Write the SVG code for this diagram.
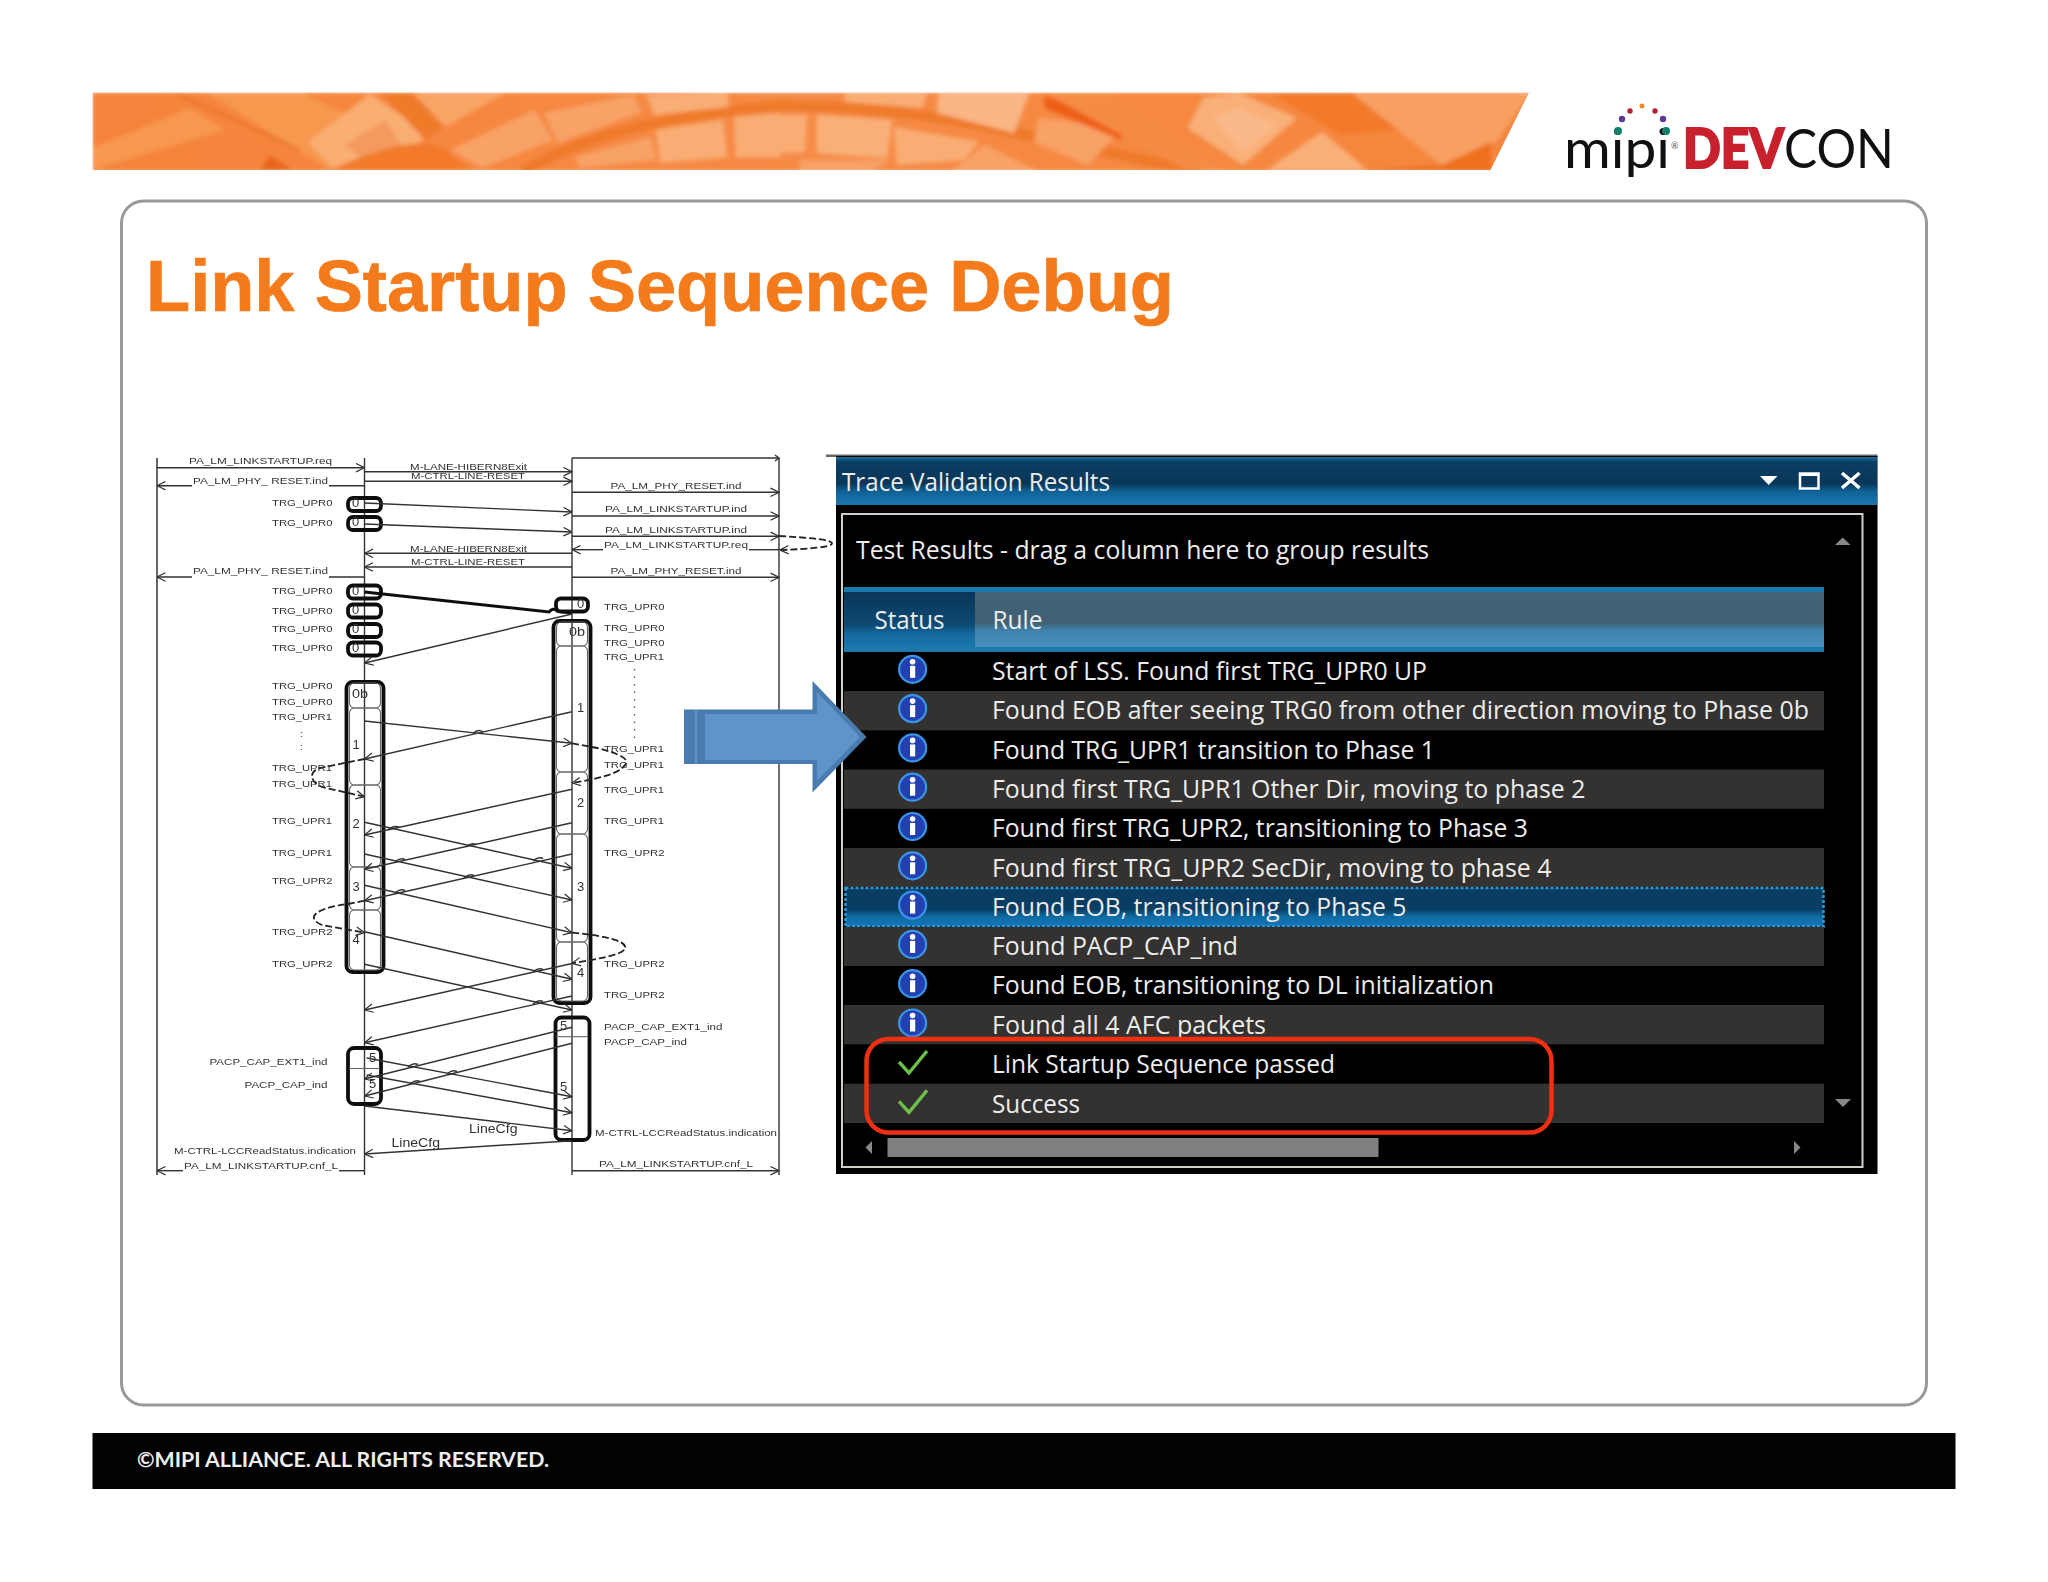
<svg xmlns="http://www.w3.org/2000/svg" width="2048" height="1582" viewBox="0 0 2048 1582">
<style>
.s{font-family:"Liberation Sans",Arial,sans-serif;font-size:9.5px;fill:#333}
.n{font-family:"Liberation Sans",Arial,sans-serif;font-size:13px;fill:#333}
.l{fill:none;stroke:#333;stroke-width:1.4}
.h{marker-end:url(#a)}
.d{fill:none;stroke:#222;stroke-width:1.8;stroke-dasharray:7 3}
.b{fill:none;stroke:#111;stroke-width:3.8}
.p{fill:none;stroke:#666;stroke-width:1.1}
.u{font-family:"Open Sans","Noto Sans",sans-serif;font-size:25px;fill:#ececec}
.g{fill:#333230}
.c{fill:none;stroke:#6cbf4b;stroke-width:3.4}
</style>
<defs>
<marker id="a" viewBox="0 0 10 10" refX="9.5" refY="5" markerWidth="10" markerHeight="10" markerUnits="userSpaceOnUse" orient="auto"><path d="M1 .8L9.5 5L1 9.2" fill="none" stroke="#333" stroke-width="1.2"/></marker>
<linearGradient id="tb" x1="0" y1="0" x2="0" y2="1"><stop offset="0" stop-color="#1a6ea5"/><stop offset=".1" stop-color="#0a3e63"/><stop offset=".55" stop-color="#0a3658"/><stop offset=".72" stop-color="#0f6297"/><stop offset="1" stop-color="#1a78ad"/></linearGradient>
<linearGradient id="hs" x1="0" y1="0" x2="0" y2="1"><stop offset="0" stop-color="#0a3658"/><stop offset=".6" stop-color="#0d4a74"/><stop offset=".75" stop-color="#14679b"/><stop offset="1" stop-color="#1a78ad"/></linearGradient>
<linearGradient id="hr" x1="0" y1="0" x2="0" y2="1"><stop offset="0" stop-color="#426476"/><stop offset=".55" stop-color="#3f6075"/><stop offset=".7" stop-color="#3f82ab"/><stop offset="1" stop-color="#478fc0"/></linearGradient>
<linearGradient id="sel" x1="0" y1="0" x2="0" y2="1"><stop offset="0" stop-color="#0a3d63"/><stop offset=".55" stop-color="#0a3d63"/><stop offset=".75" stop-color="#0f6ca5"/><stop offset="1" stop-color="#1577b5"/></linearGradient>
<linearGradient id="bn" x1="0" y1="0" x2="1" y2="0"><stop offset="0" stop-color="#f5833a"/><stop offset=".5" stop-color="#f68b46"/><stop offset="1" stop-color="#f5863c"/></linearGradient>
<clipPath id="bc"><path d="M92.500 92.500H1529L1490.500 170H92.500Z"/></clipPath>
<filter id="bl" x="-2%" y="-10%" width="104%" height="120%"><feGaussianBlur stdDeviation="2"/></filter>
<filter id="sf" x="-2%" y="-2%" width="104%" height="104%"><feGaussianBlur stdDeviation="0.35"/></filter>
<g id="i"><circle r="13.500" fill="#2340b0" stroke="#3a95e8" stroke-width="2.200"/><rect x="-2.600" y="-3.500" width="5.200" height="12" fill="#fff"/><circle cy="-7.500" r="2.800" fill="#fff"/></g>
</defs>
<rect width="2048" height="1582" fill="#fff"/>

<g id="banner" clip-path="url(#bc)">
<g filter="url(#bl)">
<rect x="92" y="92" width="1440" height="80" fill="url(#bn)"/>
<path d="M92 148L190 108L225 130L92 170Z" fill="#f8974f"/>
<path d="M205 92H300L400 140L330 170Z" fill="#f79850"/>
<path d="M175 93L300 150" stroke="#e56d1e" stroke-width="2" fill="none"/>
<path d="M260 170L270 155L292 170Z" fill="#e8651a"/>
<path d="M308 142L370 94L430 135L379 170H334Z" fill="#f9ae72"/>
<path d="M345 145L385 120L405 150L370 165Z" fill="#f49a5e"/>
<path d="M380 92H480L440 130L425 140Z" fill="#ef7a2b"/>
<path d="M413 93H505L445 127Z" fill="#f9a566"/>
<path d="M330 170Q420 130 445 150L470 170Z" fill="#f27a2c"/>
<path d="M522 172Q571 143 638 127T780 106Q880 105 979 125T1200 172" fill="none" stroke="#ef7a2b" stroke-width="11"/>
<path d="M450 150L535 110L553 140L482 168Z" fill="#f8a266"/>
<path d="M544 113L633 95L642 112L558 143Z" fill="#f8a266"/>
<path d="M647 95L727 93L729 107L654 115Z" fill="#f9ae74"/>
<path d="M656 130L723 120L727 157L660 163Z" fill="#f9ad75"/>
<path d="M734 117L780 113V157L736 157Z" fill="#f9ad75"/>
<path d="M575 157L651 137L656 160L580 168Z" fill="#f8a266"/>
<path d="M780 115H807L805 152L780 153Z" fill="#f9ad75"/>
<path d="M817 115L892 120L887 158L817 153Z" fill="#f9b078"/>
<path d="M845 93H927L922 108L845 102Z" fill="#f9ad75"/>
<path d="M939 93H1029L1014 133L937 113Z" fill="#fab684"/>
<path d="M894 127L979 142L964 160L897 165Z" fill="#f9ad75"/>
<path d="M800 160H890L870 172H800Z" fill="#f8a266"/>
<path d="M950 172L985 145L1040 172Z" fill="#f8a266"/>
<path d="M1039 118L1123 128L1088 165L1034 142Z" fill="#f8a266"/>
<path d="M1044 95L1126 127L1121 140L1044 108Z" fill="#ee5f18"/>
<path d="M1045 93H1110L1225 172H1190Z" fill="#f58c45"/>
<path d="M1203 98L1238 93L1297 118L1243 165L1188 128Z" fill="#f9b078"/>
<path d="M1213 118L1238 108L1277 125L1243 152Z" fill="#fab98a"/>
<path d="M1270 93H1352L1400 130L1340 135Z" fill="#f27a2c"/>
<path d="M1322 132L1367 170H1267Z" fill="#f9b078"/>
<path d="M1352 93H1530L1496 142L1442 165Z" fill="#f7a062"/>
<path d="M1367 170L1442 165L1491 142V172H1367Z" fill="#ee6f1f"/>
</g>
</g>

<g id="logo">
<text x="1564" y="168" font-family="Lato,sans-serif" font-size="55" fill="#111" textLength="106" lengthAdjust="spacingAndGlyphs">mipi</text>
<text x="1671" y="149" font-family="Lato,sans-serif" font-size="9" fill="#555">®</text>
<text x="1683" y="168" font-family="Lato,sans-serif" font-size="55" fill="#111" textLength="211" lengthAdjust="spacingAndGlyphs"><tspan font-weight="900" fill="#c9202e" stroke="#c9202e" stroke-width="2">DEV</tspan>CON</text>
<circle cx="1618" cy="131" r="4" fill="#12806a"/><circle cx="1666" cy="131" r="4" fill="#12806a"/>
<circle cx="1622" cy="119" r="3.200" fill="#5a3a96"/><circle cx="1663" cy="119" r="3.200" fill="#5a3a96"/>
<circle cx="1630" cy="111" r="2.700" fill="#b32035"/><circle cx="1655" cy="111" r="2.700" fill="#b32035"/>
<circle cx="1642" cy="106" r="2.500" fill="#ef8a2a"/>
</g>

<rect id="card" x="121.500" y="201" width="1805" height="1204" rx="22" fill="#fff" stroke="#999" stroke-width="3"/>
<text id="title" x="146" y="311" font-family="'Liberation Sans',Arial,sans-serif" font-size="72" font-weight="700" fill="#f47b1c" stroke="#f47b1c" stroke-width=".7" textLength="1028" lengthAdjust="spacingAndGlyphs">Link Startup Sequence Debug</text>

<g id="footer">
<rect x="92.500" y="1433" width="1863" height="56" fill="#020202"/>
<text x="137" y="1467" font-family="Lato,sans-serif" font-size="20.500" font-weight="700" fill="#eee" textLength="412" lengthAdjust="spacingAndGlyphs">©MIPI ALLIANCE. ALL RIGHTS RESERVED.</text>
</g>

<g id="sequence" filter="url(#sf)">
<g id="lifelines">
<path d="M157 458V1175" fill="none" stroke="#666" stroke-width="2"/>
<path class="l" d="M364.500 458V1175M572 458V1175M779 458V1175M572 458H779"/>
<path class="l" d="M775 455L779 458L775 461"/>
</g>

<g id="phase-boxes-a">
<rect id="a0-1" class="b" x="348" y="498" width="33" height="13" rx="5"/>
<rect id="a0-2" class="b" x="348" y="517" width="33" height="13" rx="5"/>
<rect id="a0-3" class="b" x="348" y="585.500" width="33" height="13" rx="5"/>
<rect id="a0-4" class="b" x="348" y="604.500" width="33" height="13" rx="5"/>
<rect id="a0-5" class="b" x="348" y="624" width="33" height="13" rx="5"/>
<rect id="a0-6" class="b" x="348" y="642.500" width="33" height="13" rx="5"/>
<rect class="b" x="346.500" y="682" width="37" height="290" rx="6"/>
<rect class="p" x="349.500" y="683" width="31" height="25" rx="5"/>
<rect class="p" x="349.500" y="708" width="31" height="77" rx="5"/>
<rect class="p" x="349.500" y="785" width="31" height="82" rx="5"/>
<rect class="p" x="349.500" y="867" width="31" height="43" rx="5"/>
<rect class="p" x="349.500" y="910" width="31" height="60" rx="5"/>
<rect class="b" x="348" y="1048" width="33" height="56" rx="6"/>
<path class="p" d="M349 1068.500H380"/>
</g>
<g id="phase-boxes-b">
<rect id="b0" class="b" x="556" y="598.500" width="32" height="13" rx="5"/>
<rect class="b" x="553.500" y="621" width="37" height="382" rx="6"/>
<rect class="p" x="556.500" y="622" width="31" height="24" rx="5"/>
<rect class="p" x="556.500" y="646" width="31" height="126" rx="5"/>
<rect class="p" x="556.500" y="772" width="31" height="62" rx="5"/>
<rect class="p" x="556.500" y="834" width="31" height="108" rx="5"/>
<rect class="p" x="556.500" y="942" width="31" height="59" rx="5"/>
<rect class="b" x="555.500" y="1017.500" width="34" height="122.500" rx="6"/>
<path class="p" d="M556 1036.700H588"/>
</g>

<g id="connectors">
<path class="l h" d="M157 467.700H364.500"/>
<path class="l h" d="M192 485.700H157"/><path class="l" d="M364.500 485.700H329"/>
<path class="l h" d="M364.500 471.700H572"/>
<path class="l h" d="M364.500 481.300H572"/>
<path class="l h" d="M572 492.300H779"/>
<path class="l h" d="M572 516H779"/>
<path class="l h" d="M572 536.300H779"/>
<path class="l h" d="M603 549.700H572"/><path class="l" d="M779 549.700H749"/>
<path class="l h" d="M572 577.300H779"/>
<path class="d h" d="M779 536C815 538 832 540 832 543.500C832 547 810 549 780 550"/>
<path class="l h" d="M364.500 503L572 512"/>
<path class="l h" d="M364.500 524L572 532"/>
<path class="l h" d="M572 553.300H364.500"/>
<path class="l h" d="M572 567H364.500"/>
<path class="l h" d="M192 577H157"/><path class="l" d="M364.500 577H329"/>
<path d="M364.500 592L549 612Q553 607 557 611L571 613" fill="none" stroke="#111" stroke-width="3"/>
<path class="l h" d="M572 614L364.500 663"/>
<path class="l h" d="M364.500 721L572 743.300"/>
<path class="l h" d="M572 711.700L364.500 759"/>
<path class="d h" d="M364.500 759L320 768C308 772 310 782 322 787L364.500 796.700"/>
<path class="d h" d="M572 743.300L597 748C622 754 630 760 625 765C618 775 595 779 572 783"/>
<path class="l h" d="M364.500 822.300L572 868.300"/>
<path class="l h" d="M364.500 854L572 900"/>
<path class="l h" d="M364.500 885.300L572 932.700"/>
<path class="l h" d="M364.500 931.700L572 979.300"/>
<path class="l h" d="M364.500 964.300L572 1010"/>
<path class="l h" d="M366.700 1058L572 1096.700"/>
<path class="l h" d="M366.700 1075L572 1112.700"/>
<path class="l h" d="M364.500 1106L572 1130.700"/>
<path class="l h" d="M572 789.300L364.500 835"/>
<path class="l h" d="M572 822.700L364.500 869.300"/>
<path class="l h" d="M572 854L364.500 900.700"/>
<path class="l h" d="M572 963.500L364.500 1010"/>
<path class="l h" d="M572 996L364.500 1042.700"/>
<path class="l h" d="M572 1027.300L364.500 1079"/>
<path class="l h" d="M572 1043.300L364.500 1096"/>
<path class="l h" d="M572 1140.700L364.500 1154"/>
<path class="d h" d="M364.500 900.700L348 904C315 908 305 918 322 925L364.500 932.700"/>
<path class="d h" d="M572 932.700C610 936 628 942 625 949C620 956 595 959 572 963.300"/>
<path class="l h" d="M572 1170.700H779"/>
<path class="l h" d="M183 1170.700H157"/><path class="l" d="M364.500 1170.700H339"/>
<path class="l" d="M473 733.500q5 -5 10 -1.500M388 830q5 -5 11 -3M466 847q5 -5 10 -2.500M395 862q5 -5 10 -2.500M464 878q5 -5 10 -2.500M395 893q5 -5 10 -2.500M533 861q5 -5 10 -2.500M533 972q5 -5 10 -2.500M533 1004q5 -5 10 -2.500M408 1067q5 -5 10 -2.500M447 1074q5 -5 10 -2.500M410 1084q5 -5 10 -2.500"/>
</g>

<g id="labels">
<text class="s" x="189" y="464" textLength="143" lengthAdjust="spacingAndGlyphs">PA_LM_LINKSTARTUP.req</text>
<text class="s" x="193" y="483.700" textLength="135" lengthAdjust="spacingAndGlyphs">PA_LM_PHY_ RESET.ind</text>
<text class="s" x="410" y="470" textLength="117" lengthAdjust="spacingAndGlyphs">M-LANE-HIBERN8Exit</text>
<text class="s" x="411" y="479" textLength="114" lengthAdjust="spacingAndGlyphs">M-CTRL-LINE-RESET</text>
<text class="s" x="610.500" y="489.300" textLength="131" lengthAdjust="spacingAndGlyphs">PA_LM_PHY_RESET.ind</text>
<text class="s" x="605" y="511.700" textLength="142" lengthAdjust="spacingAndGlyphs">PA_LM_LINKSTARTUP.ind</text>
<text class="s" x="605" y="533" textLength="142" lengthAdjust="spacingAndGlyphs">PA_LM_LINKSTARTUP.ind</text>
<text class="s" x="604" y="547.700" textLength="144" lengthAdjust="spacingAndGlyphs">PA_LM_LINKSTARTUP.req</text>
<text class="s" x="610.500" y="574" textLength="131" lengthAdjust="spacingAndGlyphs">PA_LM_PHY_RESET.ind</text>
<text class="s" x="410" y="551.700" textLength="117" lengthAdjust="spacingAndGlyphs">M-LANE-HIBERN8Exit</text>
<text class="s" x="411" y="565.300" textLength="114" lengthAdjust="spacingAndGlyphs">M-CTRL-LINE-RESET</text>
<text class="s" x="193" y="574" textLength="135" lengthAdjust="spacingAndGlyphs">PA_LM_PHY_ RESET.ind</text>

<text class="s" x="272" y="506.300" textLength="60.500" lengthAdjust="spacingAndGlyphs">TRG_UPR0</text>
<text class="s" x="272" y="525.700" textLength="60.500" lengthAdjust="spacingAndGlyphs">TRG_UPR0</text>
<text class="s" x="272" y="594.300" textLength="60.500" lengthAdjust="spacingAndGlyphs">TRG_UPR0</text>
<text class="s" x="272" y="613.700" textLength="60.500" lengthAdjust="spacingAndGlyphs">TRG_UPR0</text>
<text class="s" x="272" y="632.300" textLength="60.500" lengthAdjust="spacingAndGlyphs">TRG_UPR0</text>
<text class="s" x="272" y="651" textLength="60.500" lengthAdjust="spacingAndGlyphs">TRG_UPR0</text>
<text class="s" x="272" y="689.300" textLength="60.500" lengthAdjust="spacingAndGlyphs">TRG_UPR0</text>
<text class="s" x="272" y="705" textLength="60.500" lengthAdjust="spacingAndGlyphs">TRG_UPR0</text>
<text class="s" x="272" y="720.300" textLength="60" lengthAdjust="spacingAndGlyphs">TRG_UPR1</text>
<text class="s" x="300" y="737">:</text>
<text class="s" x="300" y="750">:</text>
<text class="s" x="272" y="771" textLength="60" lengthAdjust="spacingAndGlyphs">TRG_UPR1</text>
<text class="s" x="272" y="787" textLength="60" lengthAdjust="spacingAndGlyphs">TRG_UPR1</text>
<text class="s" x="272" y="824.300" textLength="60" lengthAdjust="spacingAndGlyphs">TRG_UPR1</text>
<text class="s" x="272" y="856.300" textLength="60" lengthAdjust="spacingAndGlyphs">TRG_UPR1</text>
<text class="s" x="272" y="884.300" textLength="60.500" lengthAdjust="spacingAndGlyphs">TRG_UPR2</text>
<text class="s" x="272" y="935" textLength="60.500" lengthAdjust="spacingAndGlyphs">TRG_UPR2</text>
<text class="s" x="272" y="966.700" textLength="60.500" lengthAdjust="spacingAndGlyphs">TRG_UPR2</text>
<text class="s" x="209.500" y="1065" textLength="118" lengthAdjust="spacingAndGlyphs">PACP_CAP_EXT1_ind</text>
<text class="s" x="244.500" y="1088.300" textLength="83" lengthAdjust="spacingAndGlyphs">PACP_CAP_ind</text>
<text class="s" x="174" y="1154.300" textLength="182" lengthAdjust="spacingAndGlyphs">M-CTRL-LCCReadStatus.indication</text>
<text class="s" x="184" y="1169" textLength="154" lengthAdjust="spacingAndGlyphs">PA_LM_LINKSTARTUP.cnf_L</text>

<text class="s" x="604" y="610" textLength="60.500" lengthAdjust="spacingAndGlyphs">TRG_UPR0</text>
<text class="s" x="604" y="631" textLength="60.500" lengthAdjust="spacingAndGlyphs">TRG_UPR0</text>
<text class="s" x="604" y="646.300" textLength="60.500" lengthAdjust="spacingAndGlyphs">TRG_UPR0</text>
<text class="s" x="604" y="660" textLength="60" lengthAdjust="spacingAndGlyphs">TRG_UPR1</text>
<path d="M634.500 669V742" fill="none" stroke="#555" stroke-width="1.300" stroke-dasharray="1.500 6"/>
<text class="s" x="604" y="752.300" textLength="60" lengthAdjust="spacingAndGlyphs">TRG_UPR1</text>
<text class="s" x="604" y="767.700" textLength="60" lengthAdjust="spacingAndGlyphs">TRG_UPR1</text>
<text class="s" x="604" y="792.700" textLength="60" lengthAdjust="spacingAndGlyphs">TRG_UPR1</text>
<text class="s" x="604" y="824.300" textLength="60" lengthAdjust="spacingAndGlyphs">TRG_UPR1</text>
<text class="s" x="604" y="856.300" textLength="60.500" lengthAdjust="spacingAndGlyphs">TRG_UPR2</text>
<text class="s" x="604" y="966.700" textLength="60.500" lengthAdjust="spacingAndGlyphs">TRG_UPR2</text>
<text class="s" x="604" y="998" textLength="60.500" lengthAdjust="spacingAndGlyphs">TRG_UPR2</text>
<text class="s" x="604" y="1030" textLength="118.500" lengthAdjust="spacingAndGlyphs">PACP_CAP_EXT1_ind</text>
<text class="s" x="604" y="1045.300" textLength="83" lengthAdjust="spacingAndGlyphs">PACP_CAP_ind</text>
<text class="s" x="595" y="1136.300" textLength="182" lengthAdjust="spacingAndGlyphs">M-CTRL-LCCReadStatus.indication</text>
<text class="s" x="599" y="1167.300" textLength="154" lengthAdjust="spacingAndGlyphs">PA_LM_LINKSTARTUP.cnf_L</text>
<text class="n" x="391.500" y="1146.700" textLength="48.500" lengthAdjust="spacingAndGlyphs">LineCfg</text>
<text class="n" x="469" y="1132.700" textLength="48.500" lengthAdjust="spacingAndGlyphs">LineCfg</text>

<text class="n" x="352" y="507">0</text><text class="n" x="352" y="526">0</text><text class="n" x="352" y="594.500">0</text><text class="n" x="352" y="613.500">0</text><text class="n" x="352" y="633">0</text><text class="n" x="352" y="651.500">0</text>
<text class="n" x="352" y="697.700" textLength="16" lengthAdjust="spacingAndGlyphs">0b</text>
<text class="n" x="352.500" y="749.300">1</text><text class="n" x="352.500" y="828.300">2</text><text class="n" x="352.500" y="891.300">3</text><text class="n" x="352.500" y="943.700">4</text>
<text class="n" x="369" y="1061.700">5</text><text class="n" x="369" y="1088.300">5</text>
<text class="n" x="577" y="607.700">0</text>
<text class="n" x="569" y="636" textLength="16" lengthAdjust="spacingAndGlyphs">0b</text>
<text class="n" x="577" y="711.700">1</text><text class="n" x="577" y="806.700">2</text><text class="n" x="577" y="891.300">3</text><text class="n" x="577" y="976.700">4</text>
<text class="n" x="560" y="1030">5</text><text class="n" x="560" y="1090.700">5</text>
</g>
</g>

<g id="panel">
<rect x="826" y="454.500" width="1051.500" height="2.500" fill="#666"/>
<rect x="836" y="456" width="1041.500" height="718" fill="#000"/>
<rect x="836" y="457" width="1041" height="48" fill="url(#tb)"/>
<text x="842" y="491" class="u" textLength="268" lengthAdjust="spacingAndGlyphs">Trace Validation Results</text>
<path d="M1760 476H1777.500L1768.700 485Z" fill="#fff"/>
<rect x="1800" y="473.500" width="18.500" height="15" fill="none" stroke="#fff" stroke-width="2.500"/>
<path d="M1799 474.500H1819" stroke="#fff" stroke-width="3" fill="none"/>
<path d="M1842 473L1859.500 488M1859.500 473L1842 488" stroke="#fff" stroke-width="3.500" fill="none"/>
<rect x="842" y="514" width="1020.500" height="653" fill="none" stroke="#d0d0c8" stroke-width="2"/>
<text x="856" y="559" class="u" textLength="573" lengthAdjust="spacingAndGlyphs">Test Results - drag a column here to group results</text>
<path d="M1835 545L1842.700 537.500L1850.500 545Z" fill="#888"/>
<rect x="844" y="587" width="980" height="65" fill="#1a78ad"/>
<rect x="844" y="592" width="131" height="55" fill="url(#hs)"/>
<rect x="975" y="592" width="849" height="55" fill="url(#hr)"/>
<text x="874.500" y="629.300" class="u" textLength="70" lengthAdjust="spacingAndGlyphs">Status</text>
<text x="992.500" y="629.300" class="u" textLength="50" lengthAdjust="spacingAndGlyphs">Rule</text>

<g id="row1"><use href="#i" x="912.600" y="669.300"/><text x="992" y="680" class="u" textLength="435" lengthAdjust="spacingAndGlyphs">Start of LSS. Found first TRG_UPR0 UP</text></g>
<g id="row2"><rect class="g" x="844" y="691" width="980" height="39.300"/><use href="#i" x="912.600" y="708.600"/><text x="992" y="719.300" class="u" textLength="817" lengthAdjust="spacingAndGlyphs">Found EOB after seeing TRG0 from other direction moving to Phase 0b</text></g>
<g id="row3"><use href="#i" x="912.600" y="747.900"/><text x="992" y="758.600" class="u" textLength="443" lengthAdjust="spacingAndGlyphs">Found TRG_UPR1 transition to Phase 1</text></g>
<g id="row4"><rect class="g" x="844" y="769.500" width="980" height="39.300"/><use href="#i" x="912.600" y="787.200"/><text x="992" y="797.900" class="u" textLength="593.500" lengthAdjust="spacingAndGlyphs">Found first TRG_UPR1 Other Dir, moving to phase 2</text></g>
<g id="row5"><use href="#i" x="912.600" y="826.500"/><text x="992" y="837.200" class="u" textLength="536" lengthAdjust="spacingAndGlyphs">Found first TRG_UPR2, transitioning to Phase 3</text></g>
<g id="row6"><rect class="g" x="844" y="848" width="980" height="39.300"/><use href="#i" x="912.600" y="865.800"/><text x="992" y="876.500" class="u" textLength="559.500" lengthAdjust="spacingAndGlyphs">Found first TRG_UPR2 SecDir, moving to phase 4</text></g>
<g id="row7"><rect x="845.500" y="888" width="978" height="38.500" fill="url(#sel)" stroke="#2a9ad8" stroke-width="2.500" stroke-dasharray="3 2"/><use href="#i" x="912.600" y="905.100"/><text x="992" y="915.800" class="u" textLength="414.500" lengthAdjust="spacingAndGlyphs">Found EOB, transitioning to Phase 5</text></g>
<g id="row8"><rect class="g" x="844" y="927" width="980" height="39"/><use href="#i" x="912.600" y="944.400"/><text x="992" y="955.100" class="u" textLength="246" lengthAdjust="spacingAndGlyphs">Found PACP_CAP_ind</text></g>
<g id="row9"><use href="#i" x="912.600" y="983.700"/><text x="992" y="994.400" class="u" textLength="502" lengthAdjust="spacingAndGlyphs">Found EOB, transitioning to DL initialization</text></g>
<g id="row10"><rect class="g" x="844" y="1005" width="980" height="39.300"/><use href="#i" x="912.600" y="1023"/><text x="992" y="1033.700" class="u" textLength="274" lengthAdjust="spacingAndGlyphs">Found all 4 AFC packets</text></g>
<g id="row11"><path class="c" d="M899 1062L909 1073L927 1051"/><text x="992" y="1073.400" class="u" textLength="343" lengthAdjust="spacingAndGlyphs">Link Startup Sequence passed</text></g>
<g id="row12"><rect class="g" x="844" y="1083.700" width="980" height="39.300"/><path class="c" d="M899 1101.300L909 1112.300L927 1090.300"/><text x="992" y="1112.700" class="u" textLength="88" lengthAdjust="spacingAndGlyphs">Success</text></g>

<path d="M1835 1099L1843 1107L1851 1099Z" fill="#888"/>
<rect x="887.500" y="1138" width="491" height="19" fill="#808080"/>
<path d="M872 1141L865.500 1147.500L872 1154Z" fill="#888"/>
<path d="M1794 1141L1800.500 1147.500L1794 1154Z" fill="#888"/>
</g>
<rect id="callout" x="866.500" y="1039" width="685" height="93.500" rx="22" fill="none" stroke="#f03010" stroke-width="4.500"/>

<g id="big-arrow">
<path d="M684 709.500H812.500V681L866.500 737L812.500 792.500V764H684Z" fill="#4a7bae"/>
<path d="M705 714H817V692L860 737L817 781V760H705Z" fill="#5f94ca"/>
<path d="M696 710V764" stroke="#6a9bcf" stroke-width="1.500" fill="none"/>
</g>
</svg>
